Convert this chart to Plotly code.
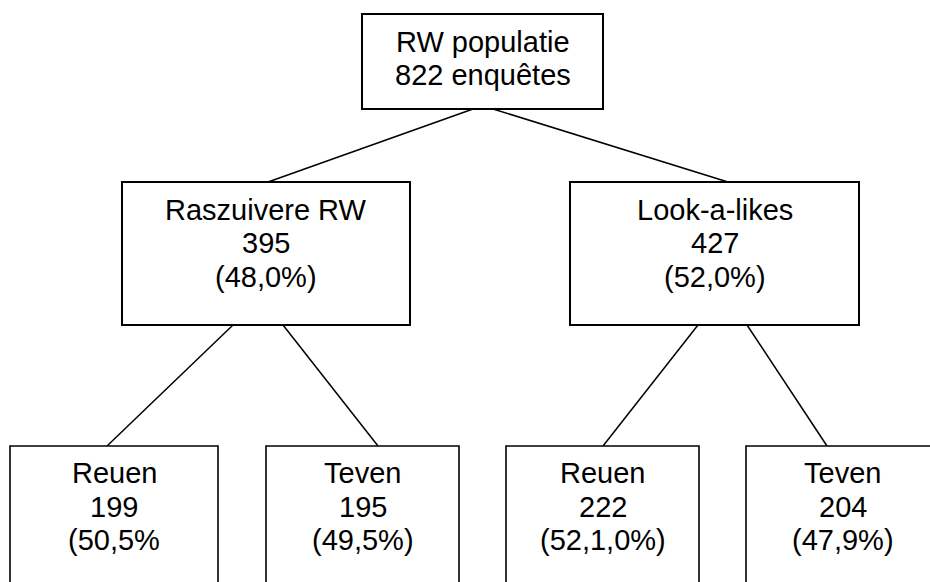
import plotly.graph_objects as go

# ---------------- data ----------------
root_lines = ["RW populatie", "822 enquêtes"]

group_labels = ["Raszuivere RW", "Look-a-likes"]
group_counts = [395, 427]
group_pcts = ["(48,0%)", "(52,0%)"]

sub_labels = ["Reuen", "Teven", "Reuen", "Teven"]
sub_counts = [199, 195, 222, 204]
sub_pcts = ["(50,5%", "(49,5%)", "(52,1,0%)", "(47,9%)"]
sub_parent = [0, 0, 1, 1]

# ---------------- layout (pixel coordinate system of the page) ----------------
PAGE_W, PAGE_H = 930, 582
root_box = (362, 14, 603, 109)
group_boxes = [(122, 182, 410, 325), (570, 182, 859, 325)]
sub_boxes = [(10, 446, 218, 700), (266, 446, 459, 700),
             (506, 446, 699, 700), (746, 446, 1000, 700)]
sub_centers = [114, 362.5, 602.5, 842.5]
root_line_y = [42, 75]
group_line_y = [210, 243, 277]
sub_line_y = [473, 507, 540]

# connector attachment points
root_out = [473, 493]
group_in = [268, 728]
group_out = [(233, 283), (698, 747)]
sub_in = [107, 378, 603, 827]

FONT = dict(family="Liberation Sans, Arial, sans-serif", size=29, color="black")

fig = go.Figure()
fig.add_trace(go.Scatter(x=[1, PAGE_W - 1], y=[1, 1], mode="markers",
                         marker=dict(opacity=0), hoverinfo="skip", showlegend=False))

shapes = []
annotations = []


def box(b, width=2):
    shapes.append(dict(type="rect", xref="x", yref="y", x0=b[0], y0=b[1], x1=b[2], y1=b[3],
                       line=dict(color="black", width=width), fillcolor="white", layer="above"))


def line(x0, y0, x1, y1):
    shapes.append(dict(type="line", xref="x", yref="y", x0=x0, y0=y0, x1=x1, y1=y1,
                       line=dict(color="black", width=1.5), layer="above"))


def text_block(x, ys, lines):
    for y, t in zip(ys, lines):
        annotations.append(dict(x=x, y=y, xref="x", yref="y", text=str(t), showarrow=False,
                                xanchor="center", yanchor="middle", align="center", font=FONT))


# connectors
for i in range(len(group_labels)):
    line(root_out[i], root_box[3], group_in[i], group_boxes[i][1])
for j, p in enumerate(sub_parent):
    k = sum(1 for q in sub_parent[:j] if q == p)
    line(group_out[p][k], group_boxes[p][3], sub_in[j], sub_boxes[j][1])

# root
box(root_box)
text_block((root_box[0] + root_box[2]) / 2, root_line_y, root_lines)

# groups
for i, lab in enumerate(group_labels):
    b = group_boxes[i]
    box(b)
    text_block((b[0] + b[2]) / 2, group_line_y, [lab, group_counts[i], group_pcts[i]])

# subs
for j, lab in enumerate(sub_labels):
    b = sub_boxes[j]
    box(b, width=1.6)
    text_block(sub_centers[j], sub_line_y, [lab, sub_counts[j], sub_pcts[j]])

fig.update_layout(
    width=PAGE_W, height=PAGE_H,
    margin=dict(l=0, r=0, t=0, b=0),
    paper_bgcolor="white", plot_bgcolor="white",
    xaxis=dict(range=[0, PAGE_W], visible=False, fixedrange=True),
    yaxis=dict(range=[PAGE_H, 0], visible=False, fixedrange=True),
    shapes=shapes, annotations=annotations,
    showlegend=False,
)

fig.write_html(
    "out.html",
    config={"displayModeBar": False},
    post_script="document.body.style.margin='0';document.body.style.overflow='hidden';",
)
